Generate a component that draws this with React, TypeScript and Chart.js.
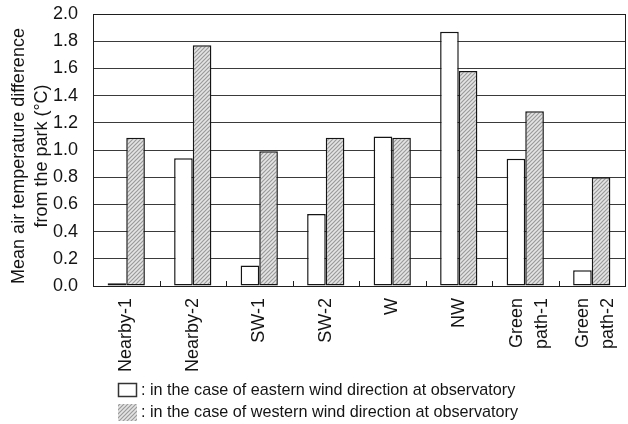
import React, { useEffect, useRef } from "react";
import { Chart, registerables } from "chart.js";

Chart.register(...registerables);

const categories: string[][] = [
  ["Nearby-1"],
  ["Nearby-2"],
  ["SW-1"],
  ["SW-2"],
  ["W"],
  ["NW"],
  ["Green", "path-1"],
  ["Green", "path-2"],
];
const easternWind = [0.02, 0.94, 0.15, 0.53, 1.1, 1.87, 0.935, 0.115];
const westernWind = [1.09, 1.77, 0.99, 1.09, 1.09, 1.58, 1.285, 0.8];
const yMin = 0;
const yMax = 2;
const yStep = 0.2;
const yTitleLines = ["Mean air temperature difference", "from the park (°C)"];
const legendLabels = [
  ": in the case of eastern wind direction at observatory",
  ": in the case of western wind direction at observatory",
];

const FONT = "'Liberation Sans', Arial, sans-serif";
const TEXT = "#141414";

function makeHatch(): CanvasPattern | string {
  const c = document.createElement("canvas");
  c.width = 4;
  c.height = 4;
  const g = c.getContext("2d");
  if (!g) return "#cccccc";
  g.fillStyle = "#e4e4e4";
  g.fillRect(0, 0, 4, 4);
  g.strokeStyle = "#9a9a9a";
  g.lineWidth = 1.2;
  g.beginPath();
  g.moveTo(-1, 5);
  g.lineTo(5, -1);
  g.moveTo(-1, 1);
  g.lineTo(1, -1);
  g.moveTo(3, 5);
  g.lineTo(5, 3);
  g.stroke();
  return g.createPattern(c, "repeat") || "#cccccc";
}

export default function App() {
  const ref = useRef<HTMLCanvasElement | null>(null);

  useEffect(() => {
    const canvas = ref.current;
    if (!canvas) return;
    const hatch = makeHatch();

    const decor = {
      id: "decor",
      afterDraw(chart: any) {
        const { ctx, chartArea: a, scales } = chart;
        const x = scales.x;
        ctx.save();
        // plot frame
        ctx.strokeStyle = "#1e1e1e";
        ctx.lineWidth = 1;
        ctx.strokeRect(
          Math.round(a.left) + 0.5,
          Math.round(a.top) + 0.5,
          Math.round(a.right - a.left),
          Math.round(a.bottom - a.top)
        );
        // inner tick marks between categories
        ctx.beginPath();
        for (let i = 0; i < categories.length - 1; i++) {
          const px = Math.round((x.getPixelForValue(i) + x.getPixelForValue(i + 1)) / 2) + 0.5;
          ctx.moveTo(px, a.bottom);
          ctx.lineTo(px, a.bottom - 5);
        }
        ctx.stroke();

        // x labels (rotated)
        ctx.fillStyle = TEXT;
        ctx.font = `18px ${FONT}`;
        ctx.textAlign = "right";
        ctx.textBaseline = "middle";
        const lh = 25;
        categories.forEach((lines, i) => {
          const cx = x.getPixelForValue(i);
          const n = lines.length;
          lines.forEach((t, j) => {
            const lx = cx + (j - (n - 1) / 2) * lh + (n > 1 ? 4 : 0);
            ctx.save();
            ctx.translate(lx, a.bottom + 12);
            ctx.rotate(-Math.PI / 2);
            ctx.fillText(t, 0, 0);
            ctx.restore();
          });
        });

        // y title
        ctx.font = `18px ${FONT}`;
        ctx.textAlign = "center";
        const cy = (a.top + a.bottom) / 2 + 6;
        yTitleLines.forEach((t, j) => {
          ctx.save();
          ctx.translate(19 + j * 23, cy);
          ctx.rotate(-Math.PI / 2);
          ctx.fillText(t, 0, 0);
          ctx.restore();
        });

        // legend
        ctx.fillStyle = "#ffffff";
        ctx.fillRect(118, 383, 19, 14);
        ctx.strokeStyle = "#333333";
        ctx.lineWidth = 1.5;
        ctx.strokeRect(118.5, 383.5, 18, 13);
        ctx.fillStyle = hatch;
        ctx.fillRect(118, 404, 19, 17);
        ctx.font = `16.2px ${FONT}`;
        ctx.fillStyle = TEXT;
        ctx.textAlign = "left";
        ctx.textBaseline = "middle";
        ctx.fillText(legendLabels[0], 141, 390.5);
        ctx.fillText(legendLabels[1], 141, 413);
        ctx.restore();
      },
    };

    const chart = new Chart(canvas, {
      type: "bar",
      data: {
        labels: categories.map((c) => c.join(" ")),
        datasets: [
          {
            label: "eastern",
            data: easternWind,
            backgroundColor: "#ffffff",
            borderColor: "#151515",
            borderWidth: 1.5,
            borderSkipped: false,
            categoryPercentage: 0.56,
            barPercentage: 1.0,
          },
          {
            label: "western",
            data: westernWind,
            backgroundColor: hatch as any,
            borderColor: "#151515",
            borderWidth: 1.5,
            borderSkipped: false,
            categoryPercentage: 0.56,
            barPercentage: 1.0,
          },
        ],
      },
      options: {
        responsive: false,
        animation: false,
        layout: { padding: { left: 0, right: 3, top: 14, bottom: 0 } },
        plugins: {
          legend: { display: false },
          tooltip: { enabled: false },
        },
        scales: {
          x: {
            grid: { display: false },
            border: { display: false },
            ticks: { display: false },
            afterFit: (s: any) => {
              s.height = 138;
              s.paddingLeft = 0;
              s.paddingRight = 0;
            },
          },
          y: {
            min: yMin,
            max: yMax,
            ticks: {
              stepSize: yStep,
              font: { family: FONT, size: 18 },
              color: TEXT,
              padding: 15,
              callback: (v: any) => Number(v).toFixed(1),
            },
            grid: { color: "#3a3a3a", lineWidth: 1, drawTicks: false },
            border: { display: false },
            afterFit: (s: any) => {
              s.width = 93;
              s.paddingTop = 0;
              s.paddingBottom = 0;
            },
          },
        },
      },
      plugins: [decor],
    });

    return () => chart.destroy();
  }, []);

  return (
    <div style={{ position: "absolute", left: 0, top: 0, width: 628, height: 424 }}>
      <canvas ref={ref} width={628} height={424} style={{ width: 628, height: 424, display: "block" }} />
    </div>
  );
}
